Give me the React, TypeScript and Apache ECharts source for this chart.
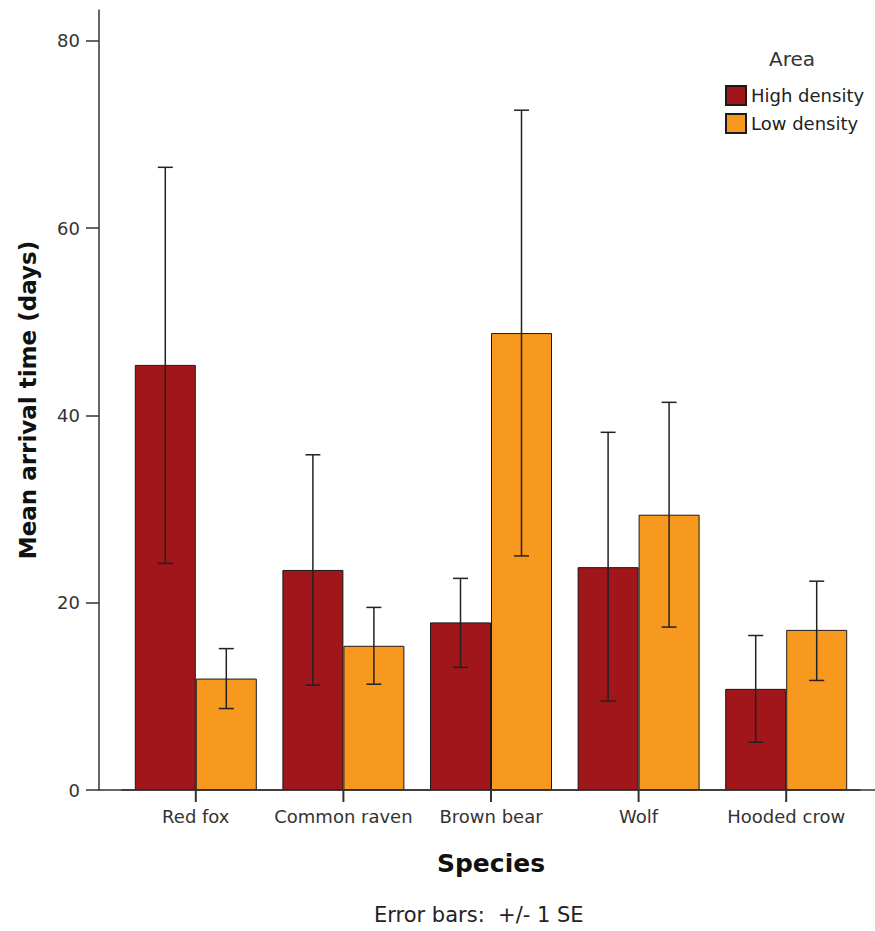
import React, { useEffect, useRef } from "react";
import * as echarts from "echarts";

const species = ["Red fox", "Common raven", "Brown bear", "Wolf", "Hooded crow"];
const areas = ["High density", "Low density"];
const highMean = [45.4, 23.5, 17.9, 23.8, 10.8];
const highLow = [24.2, 11.2, 13.1, 9.5, 5.1];
const highHigh = [66.5, 35.8, 22.6, 38.2, 16.5];
const lowMean = [11.9, 15.4, 48.8, 29.4, 17.1];
const lowLow = [8.7, 11.3, 25.0, 17.4, 11.7];
const lowHigh = [15.1, 19.5, 72.6, 41.4, 22.3];
const yTicks = [0, 20, 40, 60, 80];

const FONT = "DejaVu Sans";
const BAR_W = 61;
const HIGH_COLOR = "#A0161B";
const LOW_COLOR = "#F7991E";

function errorSeries(name: string, lows: number[], highs: number[], side: number) {
  return {
    name: name + " SE",
    type: "custom",
    z: 10,
    silent: true,
    encode: { x: 0, y: [1, 2] },
    data: lows.map((l, i) => [i, l, highs[i]]),
    renderItem: (params: any, api: any) => {
      const idx = api.value(0);
      const base = api.coord([idx, api.value(1)]);
      const top = api.coord([idx, api.value(2)]);
      const x = base[0] + side * (BAR_W / 2);
      const cap = 7.5;
      const style = { stroke: "#222", lineWidth: 1.5 };
      return {
        type: "group",
        children: [
          { type: "line", shape: { x1: x, y1: base[1], x2: x, y2: top[1] }, style },
          { type: "line", shape: { x1: x - cap, y1: top[1], x2: x + cap, y2: top[1] }, style },
          { type: "line", shape: { x1: x - cap, y1: base[1], x2: x + cap, y2: base[1] }, style },
        ],
      };
    },
  };
}

export default function App() {
  const ref = useRef<HTMLDivElement>(null);
  useEffect(() => {
    if (!ref.current) return;
    const chart = echarts.init(ref.current, undefined, { renderer: "svg" });
    chart.setOption({
      animation: false,
      backgroundColor: "#ffffff",
      textStyle: { fontFamily: FONT },
      title: [
        {
          text: "Area",
          left: 769,
          top: 49,
          padding: 0,
          textStyle: { fontFamily: FONT, fontSize: 20, fontWeight: "normal", color: "#333" },
        },
        {
          text: "Error bars:  +/- 1 SE",
          left: 374,
          top: 904,
          padding: 0,
          textStyle: { fontFamily: FONT, fontSize: 21, fontWeight: "normal", color: "#222" },
        },
      ],
      legend: {
        data: areas,
        orient: "vertical",
        left: 725,
        top: 85,
        padding: 0,
        icon: "rect",
        itemWidth: 20,
        itemHeight: 19,
        itemGap: 7,
        textStyle: { fontFamily: FONT, fontSize: 18, color: "#222" },
        selectedMode: false,
      },
      grid: { left: 122, right: 15, top: 10, bottom: 141, containLabel: false },
      xAxis: {
        type: "category",
        data: species,
        name: "Species",
        nameLocation: "middle",
        nameGap: 61,
        nameTextStyle: { fontFamily: FONT, fontSize: 25, fontWeight: "bold", color: "#111" },
        axisLine: { show: true, lineStyle: { color: "#333", width: 1.5 } },
        axisTick: { show: false },
        axisLabel: { fontFamily: FONT, fontSize: 18, color: "#333", margin: 17, interval: 0 },
        splitLine: { show: false },
      },
      yAxis: {
        type: "value",
        min: 0,
        max: 83.3,
        interval: 20,
        offset: 23,
        name: "Mean arrival time (days)",
        nameLocation: "middle",
        nameGap: 60,
        nameRotate: 90,
        nameTextStyle: { fontFamily: FONT, fontSize: 23, fontWeight: "bold", color: "#111" },
        axisLine: { show: true, lineStyle: { color: "#333", width: 1.5 } },
        axisTick: { show: true, length: 13, customValues: yTicks, lineStyle: { color: "#333", width: 1.5 } },
        axisLabel: {
          fontFamily: FONT,
          fontSize: 18,
          color: "#333",
          margin: 19,
          customValues: yTicks,
          formatter: (v: number) => (yTicks.indexOf(v) >= 0 ? String(v) : ""),
        },
        splitLine: { show: false },
      },
      series: [
        {
          name: areas[0],
          type: "bar",
          data: highMean,
          barWidth: BAR_W,
          barGap: "0%",
          itemStyle: { color: HIGH_COLOR, borderColor: "#1a1a1a", borderWidth: 1 },
        },
        {
          name: areas[1],
          type: "bar",
          data: lowMean,
          barWidth: BAR_W,
          barGap: "0%",
          itemStyle: { color: LOW_COLOR, borderColor: "#1a1a1a", borderWidth: 1 },
        },
        errorSeries(areas[0], highLow, highHigh, -1),
        errorSeries(areas[1], lowLow, lowHigh, 1),
      ],
    });

    const origin = chart.convertToPixel({ gridIndex: 0 }, [0, 0]) as number[];
    const axisY = origin[1];
    const tickEls: any[] = species.map((_, i) => {
      const p = chart.convertToPixel({ gridIndex: 0 }, [i, 0]) as number[];
      return {
        type: "rect",
        shape: { x: p[0] - 1, y: axisY, width: 2, height: 12 },
        style: { fill: "#333" },
        z: 30,
      };
    });
    tickEls.push({
      type: "rect",
      shape: { x: 99, y: axisY - 0.75, width: 776, height: 1.5 },
      style: { fill: "#333" },
      z: 30,
    });
    chart.setOption({ graphic: tickEls });

    return () => chart.dispose();
  }, []);
  return (
    <div
      ref={ref}
      style={{ position: "absolute", left: 0, top: 0, width: 875, height: 931 }}
    />
  );
}
